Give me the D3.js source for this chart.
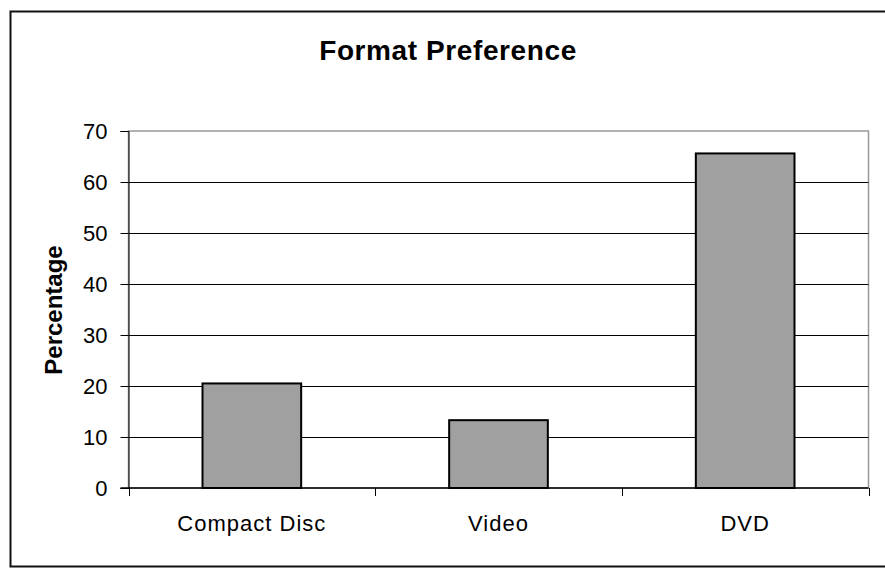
<!DOCTYPE html>
<html>
<head>
<meta charset="utf-8">
<script src="https://cdn.jsdelivr.net/npm/d3@7/dist/d3.min.js"></script>
<style>
  html, body { margin: 0; padding: 0; background: #fff; }
  svg { display: block; }
  text { font-family: "Liberation Sans", Arial, sans-serif; fill: #000; }
</style>
</head>
<body>
<svg id="chart" width="885" height="569"></svg>
<script>
const categories = ["Compact Disc", "Video", "DVD"];
const values = [20.5, 13.3, 65.6];
const yTicks = [0, 10, 20, 30, 40, 50, 60, 70];
const titleText = "Format Preference";
const yLabel = "Percentage";

const svg = d3.select("#chart");
const plot = { left: 128.5, right: 868.5, top: 131, bottom: 488 };

// outer chart border (right edge lies beyond the window)
svg.append("rect")
  .attr("x", 10.5).attr("y", 11.5)
  .attr("width", 900).attr("height", 555)
  .attr("fill", "#fff").attr("stroke", "#111").attr("stroke-width", 2);

const x = d3.scaleBand()
  .domain(categories)
  .range([plot.left, plot.right])
  .paddingInner(0.6)
  .paddingOuter(0.3);

const y = d3.scaleLinear().domain([0, 70]).range([plot.bottom, plot.top]);

// plot area border
svg.append("rect")
  .attr("x", plot.left).attr("y", plot.top)
  .attr("width", plot.right - plot.left).attr("height", plot.bottom - plot.top)
  .attr("fill", "#fff").attr("stroke", "#999").attr("stroke-width", 1.5);

// gridlines
svg.append("g").selectAll("line")
  .data(yTicks.filter(t => t > 0 && t < 70))
  .join("line")
  .attr("x1", plot.left).attr("x2", plot.right)
  .attr("y1", d => Math.round(y(d)) + 0.5).attr("y2", d => Math.round(y(d)) + 0.5)
  .attr("stroke", "#000").attr("stroke-width", 1);

// bars
svg.append("g").selectAll("rect")
  .data(categories.map((c, i) => ({ c, v: values[i] })))
  .join("rect")
  .attr("x", d => x(d.c))
  .attr("width", x.bandwidth())
  .attr("y", d => y(d.v))
  .attr("height", d => y(0) - y(d.v))
  .attr("fill", "#a0a0a0")
  .attr("stroke", "#000")
  .attr("stroke-width", 2);

// y axis
const yAxis = d3.axisLeft(y).tickValues(yTicks).tickSize(8).tickPadding(13).tickFormat(d3.format("d"));
const gy = svg.append("g").attr("transform", `translate(${plot.left},0)`).call(yAxis);
gy.select(".domain").attr("stroke", "#000");
gy.selectAll(".tick line").attr("stroke", "#000");
gy.selectAll(".tick text")
  .style("font-family", '"Liberation Sans", Arial, sans-serif')
  .style("font-size", "22px").attr("fill", "#000").attr("dy", "0.36em");

// x axis: line + boundary ticks
const step = x.step();
const boundaries = categories.map(c => x(c) - step * x.paddingInner() / 2).concat([plot.right]);
boundaries[0] = plot.left;
const gx = svg.append("g");
gx.append("line")
  .attr("x1", plot.left - 8).attr("x2", plot.right)
  .attr("y1", plot.bottom).attr("y2", plot.bottom)
  .attr("stroke", "#000").attr("stroke-width", 1.5);
gx.selectAll("line.tk")
  .data(boundaries)
  .join("line").attr("class", "tk")
  .attr("x1", d => Math.round(d) + 0.5).attr("x2", d => Math.round(d) + 0.5)
  .attr("y1", plot.bottom).attr("y2", plot.bottom + 8)
  .attr("stroke", "#000").attr("stroke-width", 1);
gx.selectAll("text")
  .data(categories)
  .join("text")
  .attr("x", d => x(d) + x.bandwidth() / 2)
  .attr("y", 531)
  .attr("text-anchor", "middle")
  .style("font-size", "22px")
  .style("letter-spacing", "1px")
  .text(d => d);

// title
svg.append("text")
  .attr("x", 448).attr("y", 60)
  .attr("text-anchor", "middle")
  .style("font-size", "28px").style("font-weight", "bold")
  .style("letter-spacing", "0.6px")
  .text(titleText);

// y label
svg.append("text")
  .attr("transform", "translate(62,310) rotate(-90)")
  .attr("text-anchor", "middle")
  .style("font-size", "24px").style("font-weight", "bold")
  .text(yLabel);
</script>
</body>
</html>
